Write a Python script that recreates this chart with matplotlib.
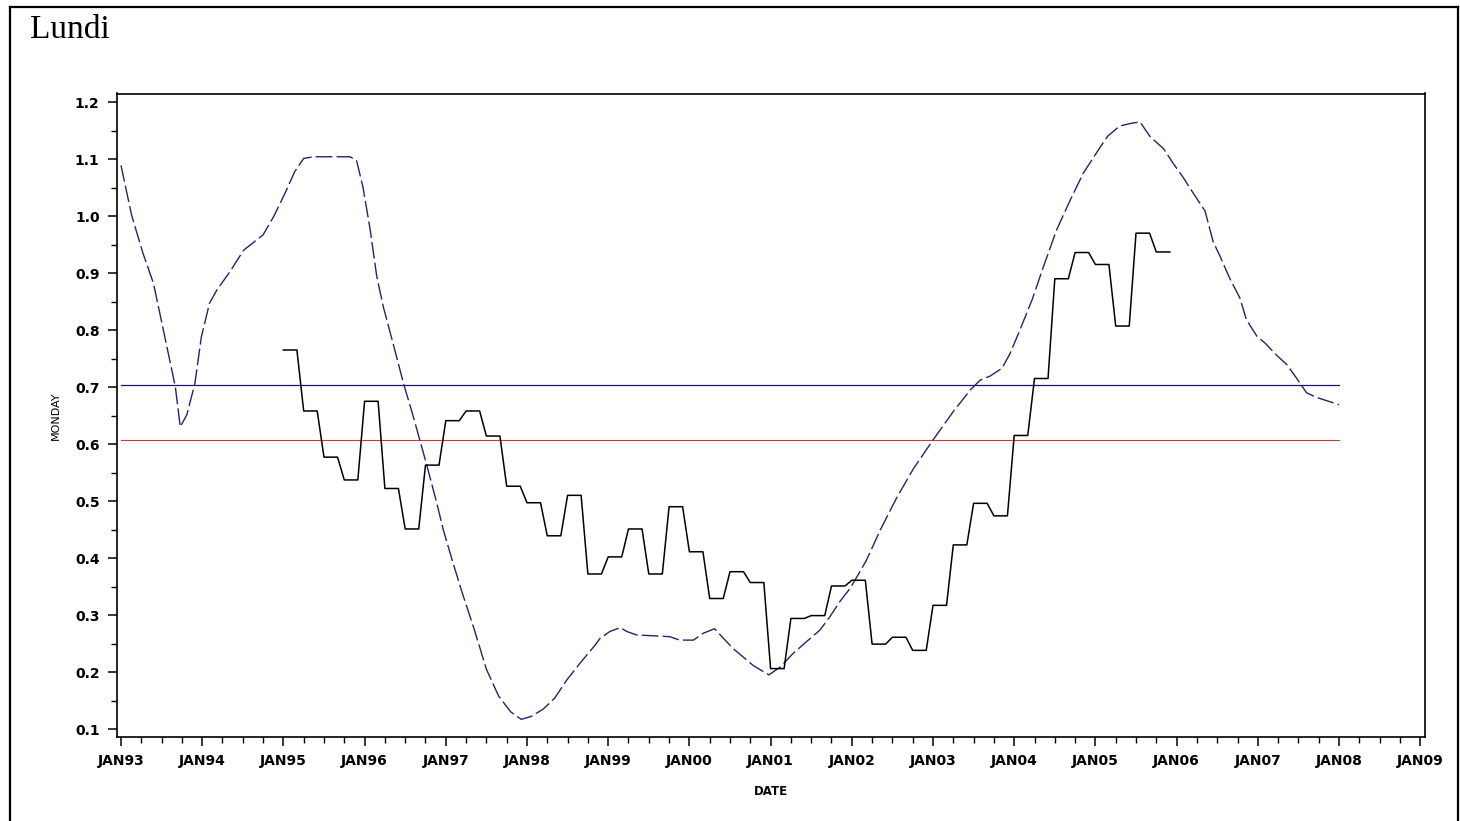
import matplotlib
matplotlib.use("Agg")
import matplotlib.pyplot as plt
import numpy as np
from matplotlib.lines import Line2D

# dashed curve (decimal year, value)
trend_dates = [
    1993.00, 1993.13, 1993.27, 1993.40, 1993.54, 1993.67, 1993.73, 1993.81,
    1993.91, 1993.99, 1994.09, 1994.18, 1994.34, 1994.51, 1994.67, 1994.75,
    1994.88, 1995.02, 1995.14, 1995.25, 1995.37, 1995.82, 1995.90, 1995.98,
    1996.07, 1996.15, 1996.23, 1996.35, 1996.48, 1996.60, 1996.68, 1996.76,
    1996.89, 1996.97, 1997.09, 1997.20, 1997.35, 1997.50, 1997.65, 1997.80,
    1997.93, 1998.05, 1998.20, 1998.34, 1998.49, 1998.65, 1998.82, 1998.90,
    1999.02, 1999.15, 1999.23, 1999.35, 1999.64, 1999.76, 1999.88, 2000.05,
    2000.17, 2000.31, 2000.40, 2000.54, 2000.79, 2000.98, 2001.12, 2001.28,
    2001.44, 2001.61, 2001.73, 2001.85, 2001.98, 2002.10, 2002.18, 2002.35,
    2002.55, 2002.76, 2003.00, 2003.25, 2003.46, 2003.58, 2003.70, 2003.85,
    2003.95, 2004.07, 2004.22, 2004.36, 2004.52, 2004.69, 2004.85, 2005.00,
    2005.15, 2005.30, 2005.45, 2005.55, 2005.67, 2005.84, 2005.96, 2006.08,
    2006.21, 2006.35, 2006.45, 2006.53, 2006.66, 2006.78, 2006.86, 2006.99,
    2007.09, 2007.23, 2007.36, 2007.48, 2007.60, 2007.72, 2008.00,
]
trend_values = [
    1.089, 1.002, 0.935, 0.882, 0.788, 0.700, 0.630, 0.651,
    0.706, 0.788, 0.847, 0.870, 0.902, 0.940, 0.958, 0.967,
    0.999, 1.040, 1.078, 1.101, 1.104, 1.104, 1.098, 1.051,
    0.975, 0.894, 0.841, 0.777, 0.706, 0.648, 0.607, 0.566,
    0.496, 0.449, 0.391, 0.340, 0.275, 0.205, 0.158, 0.130,
    0.117, 0.122, 0.135, 0.154, 0.186, 0.215, 0.244, 0.259,
    0.271, 0.278, 0.271, 0.265, 0.263, 0.262, 0.256, 0.256,
    0.268, 0.276, 0.262, 0.241, 0.211, 0.195, 0.209, 0.233,
    0.253, 0.274, 0.297, 0.323, 0.347, 0.376, 0.396, 0.449,
    0.505, 0.557, 0.607, 0.657, 0.695, 0.712, 0.719, 0.733,
    0.759, 0.800, 0.853, 0.911, 0.975, 1.028, 1.075, 1.108,
    1.140, 1.158, 1.163, 1.165, 1.140, 1.118, 1.092, 1.068,
    1.039, 1.009, 0.955, 0.931, 0.889, 0.856, 0.818, 0.789,
    0.777, 0.756, 0.739, 0.715, 0.690, 0.682, 0.669,
]

# quarterly MONDAY values, Q1 1995 .. Q4 2005 (held monthly)
monday_start = 1995
monday_quarterly = [
    0.765, 0.658, 0.577, 0.537,
    0.675, 0.522, 0.451, 0.563,
    0.641, 0.658, 0.614, 0.526,
    0.497, 0.439, 0.510, 0.372,
    0.402, 0.451, 0.372, 0.490,
    0.411, 0.329, 0.376, 0.357,
    0.206, 0.294, 0.299, 0.351,
    0.361, 0.249, 0.261, 0.238,
    0.317, 0.423, 0.496, 0.474,
    0.615, 0.715, 0.890, 0.936,
    0.915, 0.807, 0.970, 0.937,
]

# reference levels, drawn JAN93 -> JAN08
ref_span = [1993, 2008]
ref_blue = 0.703
ref_red = 0.607

years = list(range(1993, 2010))
year_labels = ["JAN%02d" % (y % 100) for y in years]

monday_values = np.repeat(monday_quarterly, 3)
monday_dates = monday_start + np.arange(len(monday_values)) / 12.0

fig = plt.figure(figsize=(14.6, 8.21), dpi=100)
ax = fig.add_axes([117 / 1460, 1 - 737 / 821, (1425 - 117) / 1460, (737 - 93.5) / 821])

ax.plot(ref_span, [ref_blue, ref_blue], color="#18186e", lw=0.9)
ax.plot(ref_span, [ref_red, ref_red], color="#c43c3c", lw=0.8)
ax.plot(trend_dates, trend_values, color="#24246e", lw=1.0, dashes=(12, 3))
ax.plot(monday_dates, monday_values, color="black", lw=1.1)

ax.set_xlim(1992.951, 2009.059)
ax.set_ylim(0.086, 1.215)

ax.set_xticks(years)
ax.set_xticklabels(year_labels)
ax.set_xticks(np.arange(1993, 2009.01, 0.25), minor=True)
ax.set_yticks(np.arange(0.1, 1.21, 0.1))
ax.set_yticklabels(["%.1f" % v for v in np.arange(0.1, 1.21, 0.1)])
ax.set_yticks(np.arange(0.15, 1.2, 0.1), minor=True)

ax.tick_params(axis="both", which="major", direction="out", length=6.5, width=1.1)
ax.tick_params(axis="both", which="minor", direction="out", length=4, width=1.0)
ax.tick_params(axis="y", which="major", pad=6)
ax.tick_params(axis="x", which="major", pad=6)
for lab in ax.get_xticklabels() + ax.get_yticklabels():
    lab.set_fontweight("bold")
    lab.set_fontsize(10)
    lab.set_family("DejaVu Sans")

for sp in ax.spines.values():
    sp.set_linewidth(1.2)

ax.set_xlabel("DATE", fontsize=8.5, fontweight="bold", labelpad=12)
ax.set_ylabel("MONDAY", fontsize=8, labelpad=10)

fig.text(30 / 1460, 1 - 38 / 821, "Lundi", fontsize=24,
         family=["Liberation Serif", "DejaVu Serif"], va="baseline", ha="left")

# outer frame
fig.add_artist(Line2D([10 / 1460, 10 / 1460], [0, 1 - 7 / 821], transform=fig.transFigure, color="black", lw=1.6))
fig.add_artist(Line2D([10 / 1460, 1458 / 1460], [1 - 7 / 821, 1 - 7 / 821], transform=fig.transFigure, color="black", lw=1.6))
fig.add_artist(Line2D([1458 / 1460, 1458 / 1460], [0, 1 - 7 / 821], transform=fig.transFigure, color="black", lw=1.6))

fig.savefig("out.png", dpi=100)
